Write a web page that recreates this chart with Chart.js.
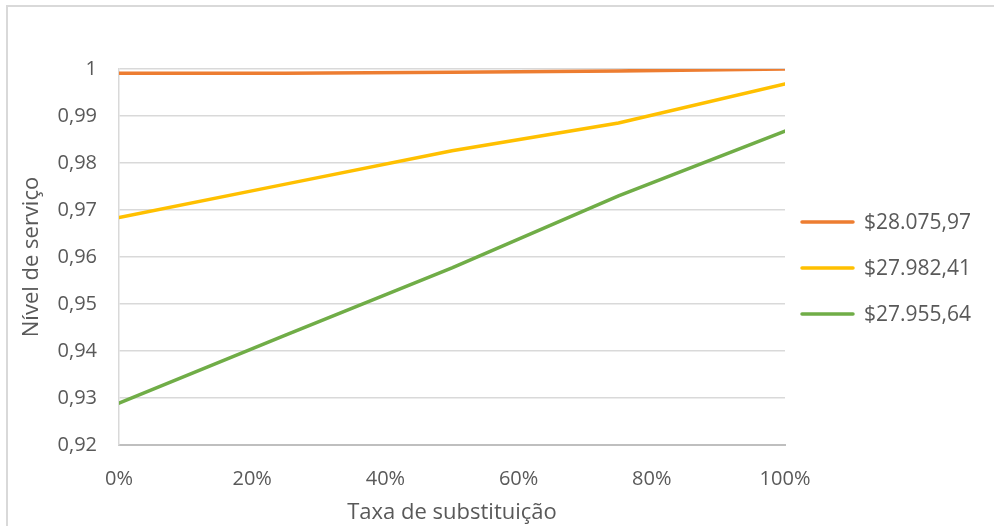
<!DOCTYPE html>
<html>
<head>
<meta charset="utf-8">
<script src="https://cdn.jsdelivr.net/npm/chart.js@4/dist/chart.umd.min.js"></script>
<style>
    body { margin:0; background:#fff; overflow:hidden; }
    .wrap { position:relative; width:994px; height:526px; }
    .frame { position:absolute; left:6px; top:5px; width:1000px; height:600px;
             border-top:2px solid #D9D9D9; border-left:2px solid #D9D9D9; }
    #chart { position:absolute; left:0; top:0; }
</style>
</head>
<body>
<div class="wrap">
    <div class="frame"></div>
    <canvas id="chart" width="994" height="526"></canvas>
</div>
<script>
// taxa de substituição (%)
let taxas = [0, 25, 50, 75, 100];
let seriesNames = ["$28.075,97", "$27.982,41", "$27.955,64"];
let serieA = [0.9991, 0.9991, 0.9993, 0.9996, 1.0000];
let serieB = [0.9684, 0.9755, 0.9826, 0.9885, 0.9968];
let serieC = [0.9289, 0.9434, 0.9577, 0.9730, 0.9868];
let cores = ['#ED7D31', '#FFC000', '#70AD47'];
let yTicks = [0.92, 0.93, 0.94, 0.95, 0.96, 0.97, 0.98, 0.99, 1];

const txt = '#595959';
const fnt = "'Open Sans', sans-serif";

function pontos(vals) {
    return vals.map(function(v, i){ return {x: taxas[i], y: v}; });
}

// legenda desenhada à direita
const legendaDireita = {
    id: 'legendaDireita',
    afterDraw: function(chart) {
        let ctx = chart.ctx;
        let ys = [222, 268, 314];
        ctx.save();
        chart.data.datasets.forEach(function(ds, i){
            ctx.strokeStyle = ds.borderColor;
            ctx.lineWidth = 3.5;
            ctx.lineCap = 'round';
            ctx.beginPath();
            ctx.moveTo(802, ys[i]);
            ctx.lineTo(853, ys[i]);
            ctx.stroke();
            ctx.fillStyle = txt;
            ctx.font = "21px " + fnt;
            ctx.textBaseline = 'middle';
            ctx.textAlign = 'left';
            ctx.fillText(ds.label, 864, ys[i] + 1);
        });
        ctx.restore();
    }
};

new Chart(document.getElementById('chart'), {
    type: 'line',
    data: {
        datasets: [serieA, serieB, serieC].map(function(s, i){
            return {
                label: seriesNames[i],
                data: pontos(s),
                borderColor: cores[i],
                backgroundColor: cores[i],
                borderWidth: 3.5,
                pointRadius: 0,
                tension: 0,
                borderCapStyle: 'round'
            };
        })
    },
    options: {
        responsive: false,
        animation: false,
        layout: { padding: { left: 10, right: 209, top: 69, bottom: 0 } },
        plugins: { legend: { display: false }, tooltip: { enabled: false } },
        scales: {
            x: {
                type: 'linear',
                min: 0, max: 100,
                ticks: {
                    stepSize: 20, padding: 22, color: txt,
                    font: { family: fnt, size: 20 },
                    callback: function(v){ return v + '%'; }
                },
                grid: { display: false, drawTicks: false },
                border: { color: '#BFBFBF', width: 2 },
                title: {
                    display: true, text: 'Taxa de substituição', color: txt,
                    font: { family: fnt, size: 22 }, padding: { top: 0, bottom: 0 }
                },
                afterFit: function(s){ s.height = 81; }
            },
            y: {
                min: 0.92, max: 1,
                afterBuildTicks: function(s){ s.ticks = yTicks.map(function(v){ return {value: v}; }); },
                ticks: {
                    padding: 22, color: txt,
                    font: { family: fnt, size: 20 },
                    callback: function(v){ return Number(v.toFixed(2)).toLocaleString('pt-BR'); }
                },
                grid: { color: '#D9D9D9', lineWidth: 1.5, drawTicks: false },
                border: { color: '#D9D9D9', width: 1.5 },
                title: {
                    display: true, text: 'Nível de serviço', color: txt,
                    font: { family: fnt, size: 22 }, padding: { top: 9, bottom: 0 }
                },
                afterFit: function(s){ s.width = 109; }
            }
        }
    },
    plugins: [legendaDireita]
});
</script>
</body>
</html>
